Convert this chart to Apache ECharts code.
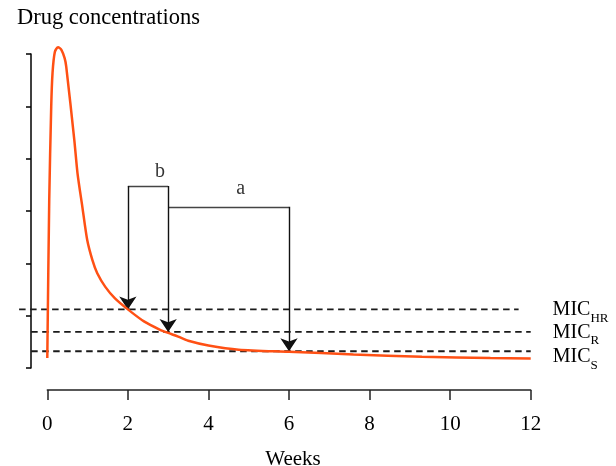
<!DOCTYPE html>
<html>
<head>
<meta charset="utf-8">
<script src="https://cdn.jsdelivr.net/npm/echarts@6/dist/echarts.min.js"></script>
<style>html,body{margin:0;padding:0;background:#fff;}#c{width:616px;height:466px;}</style>
</head>
<body>
<div id="c"></div>
<script>
// ---- data ----
const weeks = [0, 0.048, 0.097, 0.13, 0.187, 0.267, 0.35, 0.43, 0.47, 0.67, 0.75, 0.87, 0.99, 1.12, 1.24, 1.44, 1.68, 2.0, 2.4, 2.8, 3.0, 3.25, 3.5, 4.0, 4.75, 6.0, 7.6, 9.3, 11.0, 12.0];
const concentration = [0.19, 3.21, 4.99, 5.64, 6.04, 6.13, 6.08, 5.92, 5.76, 4.36, 3.72, 3.08, 2.45, 2.06, 1.81, 1.55, 1.33, 1.12, 0.89, 0.73, 0.67, 0.6, 0.52, 0.43, 0.35, 0.31, 0.26, 0.215, 0.19, 0.18];
const micNames = ['HR', 'R', 'S'];
const micValues = [1.12, 0.69, 0.32];
const micStart = [-0.7, -0.4, -0.4];
const micEnd = [11.7, 12, 12];
const bracketB = { left: 2, right: 3, top: 3.48 };
const bracketA = { left: 3, right: 6, top: 3.08 };
const bracketLabels = [[2.8, 3.75, 'b'], [4.8, 3.42, 'a']];
const xTickStep = 2;

const FONT = 'Liberation Serif';
const chart = echarts.init(document.getElementById('c'));

// geometry of the main plot area
const G = { left: 47.3, right: 85.3, top: 54, bottom: 98 };
const pxPerWeek = (616 - G.left - G.right) / 12;

const micSeries = micNames.map((n, i) => ({
  type: 'line',
  xAxisIndex: 1, yAxisIndex: 1,
  data: [[micStart[i], micValues[i]], [micEnd[i], micValues[i]]],
  symbol: 'none',
  clip: false,
  silent: true,
  z: 2,
  lineStyle: { color: '#1a1a1a', width: 1.8, type: [6.5, 4.5] },
  endLabel: {
    show: true,
    distance: n === 'HR' ? 34 : 22,
    offset: [0, n === 'S' ? 8 : 3],
    formatter: '{m|MIC}{s|' + n + '}',
    rich: {
      m: { fontFamily: FONT, fontSize: 20, color: '#000', lineHeight: 25, verticalAlign: 'top' },
      s: { fontFamily: FONT, fontSize: 13, color: '#000', lineHeight: 25, verticalAlign: 'bottom' }
    }
  }
}));

chart.setOption({
  animation: false,
  title: {
    text: 'Drug concentrations',
    left: 17, top: 7, padding: 0,
    textStyle: { fontFamily: FONT, fontSize: 22.5, fontWeight: 'normal', color: '#000' }
  },
  grid: [
    { left: G.left, right: G.right, top: G.top, bottom: G.bottom, outerBoundsMode: 'none', containLabel: false },
    { left: G.left - pxPerWeek, right: G.right, top: G.top, bottom: G.bottom, outerBoundsMode: 'none', containLabel: false }
  ],
  xAxis: [{
    type: 'value', min: 0, max: 12, interval: xTickStep,
    offset: 22,
    name: 'Weeks', nameLocation: 'middle', nameGap: 59,
    nameTextStyle: { fontFamily: FONT, fontSize: 21, color: '#000', padding: [0, 0, 0, 8] },
    axisLine: { show: true, onZero: false, lineStyle: { color: '#222', width: 1.5 } },
    axisTick: { show: true, length: 10, lineStyle: { color: '#222', width: 1.5 } },
    axisLabel: { margin: 24, fontFamily: FONT, fontSize: 21, color: '#000' },
    splitLine: { show: false }
  }, {
    gridIndex: 1, type: 'value', min: -1, max: 12, show: false
  }],
  yAxis: [{
    type: 'value', min: 0, max: 6, interval: 1,
    offset: 16.3,
    axisLine: { show: true, onZero: false, lineStyle: { color: '#000', width: 1.5 } },
    axisTick: { show: true, length: 5, lineStyle: { color: '#000', width: 1.5 } },
    axisLabel: { show: false },
    splitLine: { show: false }
  }, {
    gridIndex: 1, type: 'value', min: 0, max: 6, show: false
  }],
  series: [
    ...micSeries,
    {
      type: 'line',
      data: weeks.map((w, i) => [w, concentration[i]]),
      symbol: 'none',
      smooth: 0.25,
      clip: false,
      z: 4,
      lineStyle: { color: '#ff5014', width: 2.5 }
    },
    {
      type: 'lines',
      coordinateSystem: 'cartesian2d',
      polyline: false,
      silent: true,
      z: 3,
      lineStyle: { color: '#444', width: 1.4, opacity: 1 },
      data: [
        { coords: [[bracketB.left, bracketB.top], [bracketB.right, bracketB.top]] },
        { coords: [[bracketA.left, bracketA.top], [bracketA.right, bracketA.top]] }
      ]
    },
    {
      type: 'lines',
      coordinateSystem: 'cartesian2d',
      symbol: ['none', 'arrow'],
      symbolSize: 13,
      symbolOffset: [0, 6.5],
      silent: true,
      z: 3,
      lineStyle: { color: '#111', width: 1.4, opacity: 1 },
      data: [
        { coords: [[bracketB.left, bracketB.top], [bracketB.left, micValues[0]]] },
        { coords: [[bracketB.right, bracketB.top], [bracketB.right, micValues[1]]] },
        { coords: [[bracketA.right, bracketA.top], [bracketA.right, micValues[2]]] }
      ]
    },
    {
      type: 'scatter',
      data: bracketLabels,
      symbolSize: 0,
      silent: true,
      label: {
        show: true, position: 'inside',
        formatter: p => p.value[2],
        fontFamily: FONT, fontSize: 20, color: '#000'
      }
    }
  ]
});
</script>
</body>
</html>
